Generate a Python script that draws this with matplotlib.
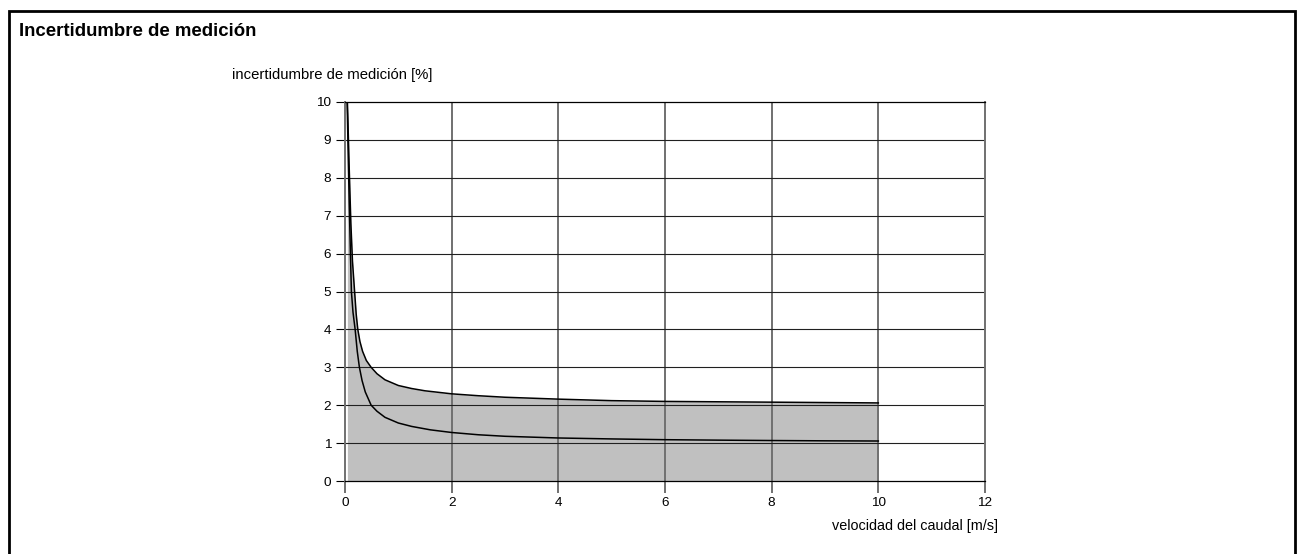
import numpy as np
import matplotlib.pyplot as plt
from matplotlib.patches import Rectangle

plt.rcParams['font.family'] = ['Liberation Sans', 'DejaVu Sans']

# curvas (velocidad [m/s], incertidumbre [%])
x_sup = [0.045, 0.08, 0.11, 0.14, 0.18, 0.21, 0.24, 0.28, 0.33, 0.4, 0.49, 0.6, 0.75, 1.0,
         1.25, 1.5, 2, 2.5, 3, 4, 5, 6, 7, 8, 9, 10]
y_sup = [10, 8.2, 6.8, 5.8, 5.0, 4.4, 4.0, 3.68, 3.42, 3.18, 3.0, 2.83, 2.67, 2.52,
         2.44, 2.38, 2.3, 2.25, 2.21, 2.16, 2.12, 2.1, 2.09, 2.08, 2.07, 2.06]

x_inf = [0.04, 0.06, 0.08, 0.1, 0.12, 0.15, 0.19, 0.23, 0.27, 0.32, 0.38, 0.49, 0.6, 0.75,
         1.0, 1.25, 1.6, 2, 2.5, 3, 4, 5, 6, 7, 8, 9, 10]
y_inf = [10, 8.6, 7.3, 6.1, 5.0, 4.45, 4.0, 3.42, 3.0, 2.65, 2.35, 2.0, 1.84, 1.68,
         1.53, 1.44, 1.35, 1.28, 1.22, 1.18, 1.135, 1.11, 1.09, 1.078, 1.068, 1.06, 1.055]

x_ticks = [0, 2, 4, 6, 8, 10, 12]
y_ticks = [0, 1, 2, 3, 4, 5, 6, 7, 8, 9, 10]

fig = plt.figure(figsize=(13, 5.54), dpi=100)
fig.patches.append(Rectangle((9 / 1300, -0.1), 1286 / 1300, 1 - 11 / 554 + 0.1,
                             transform=fig.transFigure, fill=False, ec='black', lw=2))
fig.text(19 / 1300, 1 - 32 / 554, 'Incertidumbre de medición', fontsize=13.4, fontweight='bold',
         va='center', ha='left')

ax = fig.add_axes([345 / 1300, 1 - 481 / 554, 640 / 1300, 379 / 554])
ax.set_xlim(0, 12)
ax.set_ylim(0, 10)

# relleno gris bajo la curva superior
ax.fill_between(x_sup, 0, y_sup, color='#c0c0c0', lw=0, zorder=1)
ax.plot(x_sup, y_sup, color='black', lw=1.1, zorder=3)
ax.plot(x_inf, y_inf, color='black', lw=1.1, zorder=3)

ax.set_xticks(x_ticks)
ax.set_yticks(y_ticks)
for v in x_ticks[1:-1]:
    ax.axvline(v, color='#707070', lw=1.4, zorder=2)
for v in y_ticks[1:-1]:
    ax.axhline(v, color='#202020', lw=0.8, zorder=2)

for s in ['left', 'right']:
    ax.spines[s].set_color('#707070')
    ax.spines[s].set_linewidth(1.4)
for s in ['top', 'bottom']:
    ax.spines[s].set_color('black')
    ax.spines[s].set_linewidth(0.9)
    ax.spines[s].set_zorder(4)

ax.tick_params(axis='x', length=8.5, width=1.4, color='#707070', pad=3, labelsize=9.7)
ax.tick_params(axis='y', length=6.5, width=0.8, color='black', pad=3.5, labelsize=9.7)

fig.text(232 / 1300, 1 - 75 / 554, 'incertidumbre de medición [%]', fontsize=10.7,
         va='center', ha='left')
fig.text(998 / 1300, 1 - 526 / 554, 'velocidad del caudal [m/s]', fontsize=10.4,
         va='center', ha='right')

fig.savefig('out.png', dpi=100)
